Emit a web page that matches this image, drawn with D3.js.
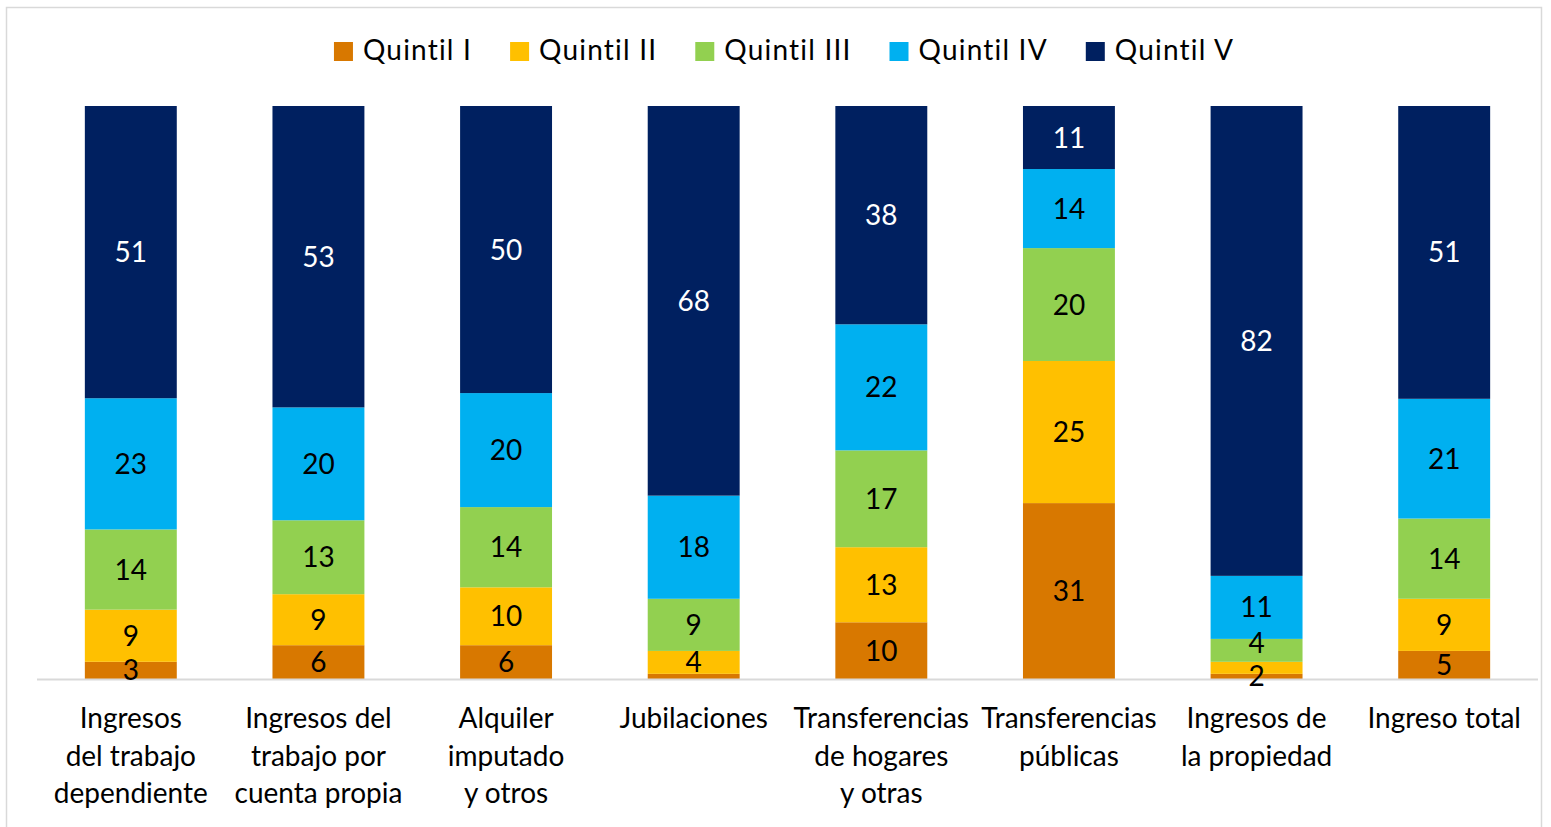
<!DOCTYPE html>
<html>
<head>
<meta charset="utf-8">
<script src="https://cdn.jsdelivr.net/npm/d3@7"></script>
<style>
  html, body { margin: 0; padding: 0; background: #fff; }
  svg { display: block; font-family: Lato, "Open Sans", sans-serif; }
</style>
</head>
<body>
<svg id="chart" width="1551" height="827"></svg>
<script>
// categories (multi-line labels)
const categories = [
  ["Ingresos", "del trabajo", "dependiente"],
  ["Ingresos del", "trabajo por", "cuenta propia"],
  ["Alquiler", "imputado", "y otros"],
  ["Jubilaciones"],
  ["Transferencias", "de hogares", "y otras"],
  ["Transferencias", "públicas"],
  ["Ingresos de", "la propiedad"],
  ["Ingreso total"]
];
const seriesNames = ["Quintil I", "Quintil II", "Quintil III", "Quintil IV", "Quintil V"];
const seriesColors = ["#D87800", "#FFC000", "#92D050", "#00B0F0", "#002060"];
const labelColors = ["#000", "#000", "#000", "#000", "#fff"];

// percentage shares per quintil, in category order
const quintil1 = [3.0, 5.9, 5.9, 0.9, 9.9, 30.7, 0.9, 4.9];
const quintil2 = [9.1, 8.9, 10.1, 4.0, 13.1, 24.8, 2.1, 9.1];
const quintil3 = [14.0, 12.9, 14.0, 9.1, 16.9, 19.7, 4.0, 14.0];
const quintil4 = [22.9, 19.7, 19.9, 18.0, 22.0, 13.8, 11.0, 20.9];
const quintil5 = [51.0, 52.6, 50.1, 68.0, 38.1, 11.0, 82.0, 51.1];

const seriesValues = [quintil1, quintil2, quintil3, quintil4, quintil5];

const svg = d3.select("#chart");
const plot = { left: 37, right: 1538, top: 106, bottom: 679 };

// chart frame
svg.append("rect")
  .attr("x", 6.5).attr("y", 7.5)
  .attr("width", 1535).attr("height", 840)
  .attr("fill", "#fff")
  .attr("stroke", "#d9d9d9")
  .attr("stroke-width", 1.5);

const keys = categories.map((c) => c.join(" "));
const rows = keys.map((k, i) => {
  const row = { key: k };
  seriesNames.forEach((s, j) => { row[s] = seriesValues[j][i]; });
  return row;
});

const stack = d3.stack().keys(seriesNames).offset(d3.stackOffsetExpand);
const stacked = stack(rows);

const x = d3.scaleBand()
  .domain(keys)
  .range([plot.left, plot.right])
  .paddingInner(0.51)
  .paddingOuter(0.255);

const y = d3.scaleLinear().domain([0, 1]).range([plot.bottom, plot.top]);

const layers = svg.append("g").selectAll("g")
  .data(stacked)
  .join("g")
  .attr("fill", (d, i) => seriesColors[i]);

layers.selectAll("rect")
  .data((d) => d)
  .join("rect")
  .attr("x", (d) => x(d.data.key))
  .attr("width", x.bandwidth())
  .attr("y", (d) => y(d[1]))
  .attr("height", (d) => y(d[0]) - y(d[1]));

// axis line
svg.append("line")
  .attr("x1", plot.left).attr("x2", plot.right)
  .attr("y1", plot.bottom + 0.5).attr("y2", plot.bottom + 0.5)
  .attr("stroke", "#d9d9d9")
  .attr("stroke-width", 2);

// value labels: centred on segments, nudged apart when they would collide
const labels = [];
stacked.forEach((layer, i) => {
  layer.forEach((d) => {
    const v = d.data[layer.key];
    if (v < 1.5) return;
    labels.push({
      key: d.data.key,
      text: Math.round(v),
      color: labelColors[i],
      y: (y(d[0]) + y(d[1])) / 2
    });
  });
});
const minGap = 33;
d3.groups(labels, (d) => d.key).forEach(([, list]) => {
  list.sort((a, b) => b.y - a.y);
  for (let k = 1; k < list.length; k++) {
    const lower = list[k - 1], upper = list[k];
    const dist = lower.y - upper.y;
    if (dist < minGap) {
      const push = (minGap - dist) / 2;
      lower.y += push;
      upper.y -= push;
    }
  }
});

svg.append("g")
  .attr("font-size", 28)
  .attr("text-anchor", "middle")
  .selectAll("text")
  .data(labels)
  .join("text")
  .attr("x", (d) => x(d.key) + x.bandwidth() / 2)
  .attr("y", (d) => d.y)
  .attr("dy", "0.36em")
  .attr("fill", (d) => d.color)
  .text((d) => d.text);

// category labels
const catG = svg.append("g")
  .attr("font-size", 28)
  .attr("text-anchor", "middle")
  .attr("fill", "#000");

catG.selectAll("text")
  .data(categories)
  .join("text")
  .attr("x", (d, i) => x(keys[i]) + x.bandwidth() / 2)
  .attr("y", 728)
  .selectAll("tspan")
  .data((d) => d)
  .join("tspan")
  .attr("x", function () { return this.parentNode.getAttribute("x"); })
  .attr("dy", (d, i) => (i === 0 ? 0 : 37.5))
  .text((d) => d);

// legend
const legend = svg.append("g")
  .attr("font-size", 28)
  .attr("letter-spacing", 1.2);
const items = legend.selectAll("g")
  .data(seriesNames)
  .join("g");

items.append("rect")
  .attr("width", 19).attr("height", 19)
  .attr("y", 42)
  .attr("fill", (d, i) => seriesColors[i]);

items.append("text")
  .attr("x", 29)
  .attr("y", 60)
  .attr("fill", "#000")
  .text((d) => d);

let offset = 0;
const widths = [];
items.each(function () {
  const w = d3.select(this).select("text").node().getComputedTextLength();
  widths.push(29 + w);
});
const gap = 38;
const total = d3.sum(widths) + gap * (widths.length - 1);
const start = 784 - total / 2;
items.attr("transform", (d, i) => {
  const t = `translate(${start + offset},0)`;
  offset += widths[i] + gap;
  return t;
});
</script>
</body>
</html>
